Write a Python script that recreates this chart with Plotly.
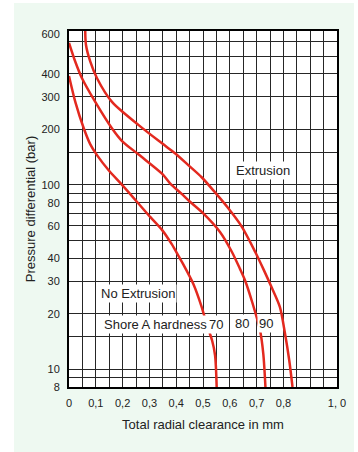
import math
import plotly.graph_objects as go

# ---- data ----
x_70 = [0.000, 0.0235, 0.055, 0.0795, 0.1045, 0.148, 0.198, 0.260, 0.303, 0.347, 0.384, 0.409, 0.4265, 0.464, 0.494, 0.515, 0.534, 0.545, 0.551]
y_70 = [390, 282, 203, 166, 145, 120, 100, 79, 67, 57, 47.5, 41, 37, 29, 22, 17.3, 14.3, 11.9, 8]

x_80 = [0.000, 0.0235, 0.0485, 0.098, 0.160, 0.198, 0.260, 0.347, 0.377, 0.4216, 0.4515, 0.501, 0.5634, 0.607, 0.638, 0.657, 0.684, 0.713, 0.725, 0.733]
y_80 = [590, 466, 379, 282, 203, 173, 146, 115, 102, 89, 81, 70, 55.5, 43.5, 35, 30.3, 23, 16.2, 12.1, 8]

x_90 = [0.0605, 0.0634, 0.0795, 0.1045, 0.1604, 0.260, 0.347, 0.3966, 0.445, 0.495, 0.545, 0.590, 0.644, 0.694, 0.725, 0.756, 0.787, 0.806, 0.822, 0.834]
y_90 = [700, 574, 466, 379, 282, 211, 168, 148, 128, 110, 91, 76, 59.5, 43.5, 35, 27.8, 21.7, 15.6, 11.1, 8]

x_tick_vals = [0, 0.1, 0.2, 0.3, 0.4, 0.5, 0.6, 0.7, 0.8, 1.0]
x_tick_text = ["0", "0,1", "0,2", "0,3", "0,4", "0,5", "0,6", "0,7", "0,8", "1, 0"]
x_grid_vals = [0.05, 0.1, 0.15, 0.2, 0.25, 0.3, 0.35, 0.4, 0.45, 0.5, 0.55, 0.6, 0.65, 0.7, 0.75, 0.8, 0.85, 0.9, 0.95]

y_tick_vals = [8, 10, 20, 30, 40, 60, 80, 100, 200, 300, 400, 660]
y_tick_text = ["8", "10", "20", "30", "40", "60", "80", "100", "200", "300", "400", "600"]
y_grid_vals = [9, 10, 15, 20, 30, 40, 50, 60, 70, 80, 90, 100, 150, 200, 300, 400, 500, 600]

x_range = [0, 1.0]
y_range = [8, 684]

RED = "#e3291f"
GREEN = "#eef9f1"
TXT = "#222222"
FONT = "Liberation Sans, Arial, sans-serif"

fig = go.Figure()
for xs, ys in [(x_70, y_70), (x_80, y_80), (x_90, y_90)]:
    fig.add_trace(go.Scatter(x=xs, y=ys, mode="lines",
                             line=dict(color=RED, width=2.5, shape="spline", smoothing=0.8),
                             showlegend=False, hoverinfo="skip"))

fig.update_layout(
    width=358, height=452,
    margin=dict(l=69, r=21, t=31, b=65),
    paper_bgcolor=GREEN, plot_bgcolor="white",
    font=dict(family=FONT, color=TXT, size=11),
    showlegend=False,
)

fig.update_xaxes(
    range=x_range, tickmode="array", tickvals=x_tick_vals, ticktext=x_tick_text,
    showgrid=False, zeroline=False, automargin=False,
    showline=True, linecolor="black", linewidth=2, mirror=True,
    ticks="", ticklabelstandoff=5, tickfont=dict(size=11),
    minor=dict(tickmode="array", tickvals=x_grid_vals, showgrid=True, gridcolor="#262626", gridwidth=1, ticks=""),
    title=dict(text="Total radial clearance in mm", font=dict(size=13), standoff=12),
)
fig.update_yaxes(
    type="log", range=[math.log10(y_range[0]), math.log10(y_range[1])],
    tickmode="array", tickvals=y_tick_vals, ticktext=y_tick_text,
    showgrid=False, zeroline=False, automargin=False,
    showline=True, linecolor="black", linewidth=2, mirror=True,
    ticks="", ticklabelstandoff=5, tickfont=dict(size=11),
    minor=dict(tickmode="array", tickvals=y_grid_vals, showgrid=True, gridcolor="#262626", gridwidth=1, ticks=""),
    title=dict(text="Pressure differential (bar)", font=dict(size=13), standoff=3),
)

# white corners outside the green panel
for x0, x1, y0, y1 in [(-69/268, -55/268, -0.3, 1.2), (-0.3, 1.3, 1 + 28/356, 1.2), (285/268, 1.3, -0.3, 1.2)]:
    fig.add_shape(type="rect", xref="paper", yref="paper", x0=x0, x1=x1, y0=y0, y1=y1,
                  fillcolor="white", line=dict(width=0), layer="below")

labels = [
    ("Extrusion", 0.7246, 119, "center"),
    ("No Extrusion", 0.2556, 25.8, "center"),
    ("Shore A hardness", 0.124, 17.5, "left"),
    ("70", 0.515, 17.5, "left"),
    ("80", 0.6455, 17.6, "center"),
    ("90", 0.735, 17.6, "center"),
]
for text, lx, ly, anchor in labels:
    fig.add_annotation(x=lx, y=math.log10(ly), text=text, showarrow=False, xanchor=anchor,
                       bgcolor="white", borderpad=1, font=dict(size=13, color=TXT))

fig.write_html("out.html", config={"displayModeBar": False},
               post_script="document.body.style.margin='0';document.body.style.overflow='hidden';")
